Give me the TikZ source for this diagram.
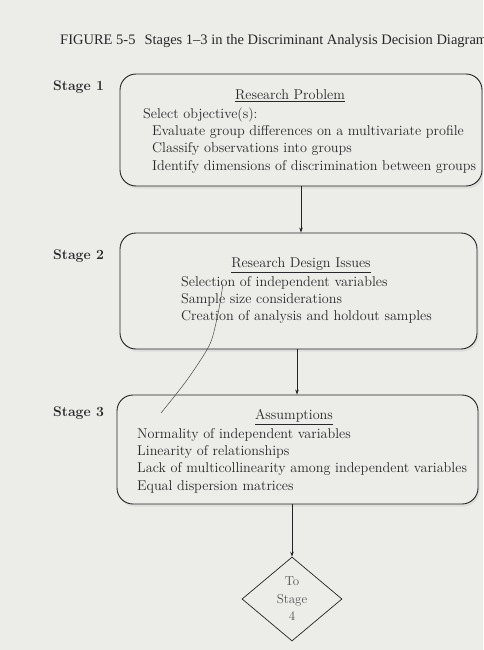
\documentclass[tikz,border=0pt]{standalone}
\usepackage{fontspec}
\newfontfamily\titlefont{Liberation Serif}
\usetikzlibrary{arrows.meta,shapes.geometric,shadows}
\definecolor{paper}{RGB}{236,236,233}
\definecolor{ink}{RGB}{40,40,40}
\definecolor{inkline}{RGB}{35,35,35}
\begin{document}
\begin{tikzpicture}[x=1pt,y=-1pt,
  bodytext/.style={font=\fontsize{14.2}{16}\selectfont, text=ink, inner sep=0pt},
  stagelabel/.style={font=\fontsize{14}{16}\selectfont\bfseries, text=ink, anchor=west, inner sep=0pt},
  heading/.style={bodytext, anchor=center},
  item/.style={bodytext, anchor=west},
  stagebox/.style={draw=inkline, fill=paper, line width=0.9pt, rounded corners=16pt,
    drop shadow={shadow xshift=1.5pt, shadow yshift=-2.5pt, opacity=0.25, fill=gray!60}},
  flowarrow/.style={draw=inkline, line width=0.7pt, -{Stealth[length=5pt,width=3.5pt]}},
  goto/.style={diamond, draw=inkline, fill=paper, line width=0.7pt, aspect=1.19,
    minimum width=100pt, minimum height=84pt, inner sep=0pt,
    font=\fontsize{13}{17.5}\selectfont, text=ink!80, align=center}
]
\useasboundingbox (0,0) rectangle (483,650);
\clip (0,0) rectangle (483,650);
\fill[paper] (0,0) rectangle (483,650);

% caption
\node[anchor=base west, inner sep=0pt, text=ink, font=\titlefont\fontsize{14.5}{16}\selectfont]
  (caption) at (60,45) {FIGURE 5-5\hspace{9pt}Stages 1\textendash 3 in the Discriminant Analysis Decision Diagram};

% stage boxes
\node[stagebox, minimum width=362pt, minimum height=112pt] (box1) at (301,130) {};
\node[stagebox, minimum width=357pt, minimum height=116pt] (box2) at (298.5,291) {};
\node[stagebox, minimum width=361pt, minimum height=109pt] (box3) at (297.5,449.5) {};

% stage labels
\node[stagelabel] (s1) at (53,87) {Stage 1};
\node[stagelabel] (s2) at (53,256) {Stage 2};
\node[stagelabel] (s3) at (53,413) {Stage 3};

% stage 1 contents
\node[heading] (h1) at (290,96) {\underline{Research Problem}};
\node[item] (t10) at (143,115) {Select objective(s):};
\node[item] (t11) at (152,132) {Evaluate group differences on a multivariate profile};
\node[item] (t12) at (152,149) {Classify observations into groups};
\node[item] (t13) at (152,167) {Identify dimensions of discrimination between groups};

% stage 2 contents
\node[heading] (h2) at (301,265) {\underline{Research Design Issues}};
\node[item] (t21) at (181,283) {Selection of independent variables};
\node[item] (t22) at (181,300) {Sample size considerations};
\node[item] (t23) at (181,317) {Creation of analysis and holdout samples};

% stage 3 contents
\node[heading] (h3) at (294,417) {\underline{Assumptions}};
\node[item] (t31) at (137,435) {Normality of independent variables};
\node[item] (t32) at (137,452) {Linearity of relationships};
\node[item] (t33) at (137,469) {Lack of multicollinearity among independent variables};
\node[item] (t34) at (137,487) {Equal dispersion matrices};

% exit to the next stage
\node[goto] (next) at (292,599) {To\\Stage\\4};

% connectors
\coordinate (c12) at (301,0);
\coordinate (c23) at (297,0);
\coordinate (c34) at (292,0);
\draw[flowarrow] (box1.south -| c12) -- (box2.north -| c12);
\draw[flowarrow] (box2.south -| c23) -- (box3.north -| c23);
\draw[flowarrow] (box3.south -| c34) -- (next.north);

% pen stroke across the page
\draw[ink!85, line width=0.5pt] plot[smooth] coordinates
  {(223,284) (220,303) (216,323) (209,346) (187,380) (161,413)};
\end{tikzpicture}
\end{document}
